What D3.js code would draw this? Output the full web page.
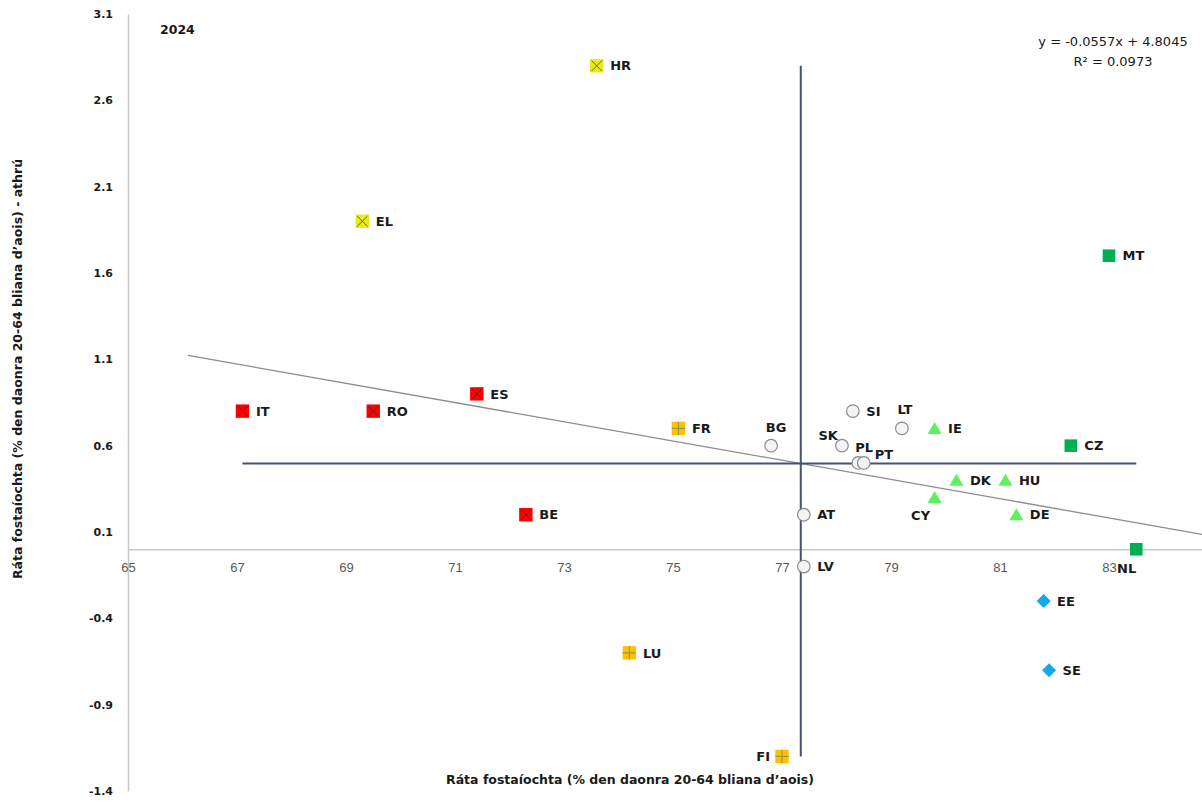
<!DOCTYPE html>
<html><head><meta charset="utf-8">
<script src="https://cdn.jsdelivr.net/npm/d3@7"></script>
<style>body{margin:0;background:#fff}svg{display:block}</style>
</head><body><svg id="chart" width="1202" height="802"></svg>
<script>
// ---------- DATA ----------
const countries = ["HR","EL","MT","IT","RO","ES","FR","BG","SI","LT","IE","SK","PL","PT","CZ","DK","HU","CY","DE","AT","BE","NL","LV","EE","SE","LU","FI"];
const employmentRate = [73.6,69.3,83.0,67.1,69.5,71.4,75.1,76.8,78.3,79.2,79.8,78.1,78.4,78.5,82.3,80.2,81.1,79.8,81.3,77.4,72.3,83.5,77.4,81.8,81.9,74.2,77.0];
const changeRate = [2.8,1.9,1.7,0.8,0.8,0.9,0.7,0.6,0.8,0.7,0.7,0.6,0.5,0.5,0.6,0.4,0.4,0.3,0.2,0.2,0.2,0.0,-0.1,-0.3,-0.7,-0.6,-1.2];
const markerGroup = ["yellowX","yellowX","green","redX","redX","redX","orangePlus","circle","circle","circle","triangle","circle","circle","circle","green","triangle","triangle","triangle","triangle","circle","redX","green","circle","diamond","diamond","orangePlus","orangePlus"];
const xTicks = [65,67,69,71,73,75,77,79,81,83];
const yTicks = [3.1,2.6,2.1,1.6,1.1,0.6,0.1,-0.4,-0.9,-1.4];
const trendSlope = -0.0557;
const trendIntercept = 4.8045;
const trendRange = [66.1, 85];
const equationLines = ["y = -0.0557x + 4.8045", "R² = 0.0973"];
const yearLabel = "2024";
const xTitle = "Ráta fostaíochta (% den daonra 20-64 bliana d’aois)";
const yTitle = "Ráta fostaíochta (% den daonra 20-64 bliana d’aois) - athrú";

// ---------- CHART ----------
const svg = d3.select("#chart");
svg.append("rect").attr("width",1202).attr("height",802).attr("fill","#fff");
const x = d3.scaleLinear().domain([65, 85]).range([128, 1218]);
const y = d3.scaleLinear().domain([-1.4, 3.1]).range([791, 14]);

const data = countries.map((c,i)=>({c, x:employmentRate[i], y:changeRate[i], g:markerGroup[i]}));

const BOLD = "DejaVu Sans";

// y axis
svg.append("g").attr("transform",`translate(${x(65)},0)`)
  .call(d3.axisLeft(y).tickValues(yTicks).tickFormat(d=>d.toFixed(1)).tickSize(0).tickPadding(15))
  .call(g=>g.select(".domain").attr("stroke","#c8c8c8").attr("stroke-width",1.5))
  .call(g=>g.selectAll("text").attr("font-family",BOLD).attr("font-weight","bold").attr("font-size",11).attr("fill","#1a1a1a"));

// x axis at y=0
svg.append("g").attr("transform",`translate(0,${y(0)})`)
  .call(d3.axisBottom(x).tickValues(xTicks).tickFormat(d=>String(d)).tickSize(0).tickPadding(14))
  .call(g=>g.select(".domain").attr("stroke","#c8c8c8").attr("stroke-width",1.5))
  .call(g=>g.selectAll("text").attr("font-family","Liberation Sans").attr("font-size",13).attr("fill","#595959"));

// trendline
svg.append("line")
  .attr("x1",x(trendRange[0])).attr("y1",y(trendSlope*trendRange[0]+trendIntercept))
  .attr("x2",x(trendRange[1])).attr("y2",y(trendSlope*trendRange[1]+trendIntercept))
  .attr("stroke","#8c8c8c").attr("stroke-width",1.3);

// crosshair at averages
const mx = d3.mean(employmentRate), my = d3.mean(changeRate);
const xe = d3.extent(employmentRate), ye = d3.extent(changeRate);
svg.append("line").attr("x1",x(xe[0])).attr("x2",x(xe[1])).attr("y1",y(my)).attr("y2",y(my))
  .attr("stroke","#44546a").attr("stroke-width",2);
svg.append("line").attr("x1",x(mx)).attr("x2",x(mx)).attr("y1",y(ye[1])).attr("y2",y(ye[0]))
  .attr("stroke","#44546a").attr("stroke-width",2);

// markers
const mk = svg.append("g");
data.forEach(d=>{
  const cx = x(d.x), cy = y(d.y);
  const g = mk.append("g").attr("transform",`translate(${cx},${cy})`);
  const s = 6.7;
  if (d.g==="redX" || d.g==="yellowX") {
    const fill = d.g==="redX" ? "#ff0000" : "#e8e820";
    const lc = d.g==="redX" ? "#6b1a1a" : "#6a6a20";
    g.append("rect").attr("x",-s).attr("y",-s).attr("width",2*s).attr("height",2*s).attr("fill",fill);
    g.append("path").attr("d",`M${-s+1.5},${-s+1.5}L${s-1.5},${s-1.5}M${s-1.5},${-s+1.5}L${-s+1.5},${s-1.5}`)
      .attr("stroke",lc).attr("stroke-width",1);
  } else if (d.g==="orangePlus") {
    g.append("rect").attr("x",-s).attr("y",-s).attr("width",2*s).attr("height",2*s).attr("fill","#ffc000");
    g.append("path").attr("d",`M0,${-s}L0,${s}M${-s},0L${s},0`).attr("stroke","#9a9a40").attr("stroke-width",1.2);
  } else if (d.g==="green") {
    const t = 6.3;
    g.append("rect").attr("x",-t).attr("y",-t).attr("width",2*t).attr("height",2*t).attr("fill","#00b050");
  } else if (d.g==="circle") {
    g.append("circle").attr("r",6.3).attr("fill","#f4f4f4").attr("stroke","#8a8a8a").attr("stroke-width",1.2);
  } else if (d.g==="triangle") {
    g.append("path").attr("d","M0,-6.5L7,5.5L-7,5.5Z").attr("fill","#5cf25c");
  } else if (d.g==="diamond") {
    g.append("path").attr("d","M0,-7L7,0L0,7L-7,0Z").attr("fill","#12a8ee");
  }
});

// label placement (anchor, dx, dy of text centre)
const place = {
  BG:["middle",5,-18], LT:["middle",3,-19], SK:["end",-4,-10], PL:["start",-3,-16],
  PT:["start",11,-9], CY:["middle",-14,18], NL:["end",0,19], FI:["end",-12,0]
};
svg.append("g").selectAll("text").data(data).join("text")
  .attr("x",d=>x(d.x)+(place[d.c]?place[d.c][1]:13.5))
  .attr("y",d=>y(d.y)+(place[d.c]?place[d.c][2]:0))
  .attr("dy","0.36em")
  .attr("text-anchor",d=>place[d.c]?place[d.c][0]:"start")
  .attr("font-family",BOLD).attr("font-weight","bold").attr("font-size",13).attr("fill","#1a1a1a")
  .text(d=>d.c);

// year
svg.append("text").attr("x",160).attr("y",34).attr("font-family",BOLD).attr("font-weight","bold")
  .attr("font-size",12.5).attr("fill","#1a1a1a").text(yearLabel);

// equation
svg.append("g").selectAll("text").data(equationLines).join("text")
  .attr("x",1113).attr("y",(d,i)=>46+i*20).attr("text-anchor","middle")
  .attr("font-family","DejaVu Sans").attr("font-size",13).attr("fill","#1a1a1a").text(d=>d);

// axis titles
svg.append("text").attr("x",630).attr("y",784).attr("text-anchor","middle")
  .attr("font-family",BOLD).attr("font-weight","bold").attr("font-size",12.5).attr("fill","#1a1a1a").text(xTitle);
svg.append("text").attr("transform","translate(22,369) rotate(-90)").attr("text-anchor","middle")
  .attr("font-family",BOLD).attr("font-weight","bold").attr("font-size",12.5).attr("fill","#1a1a1a").text(yTitle);
</script></body></html>
